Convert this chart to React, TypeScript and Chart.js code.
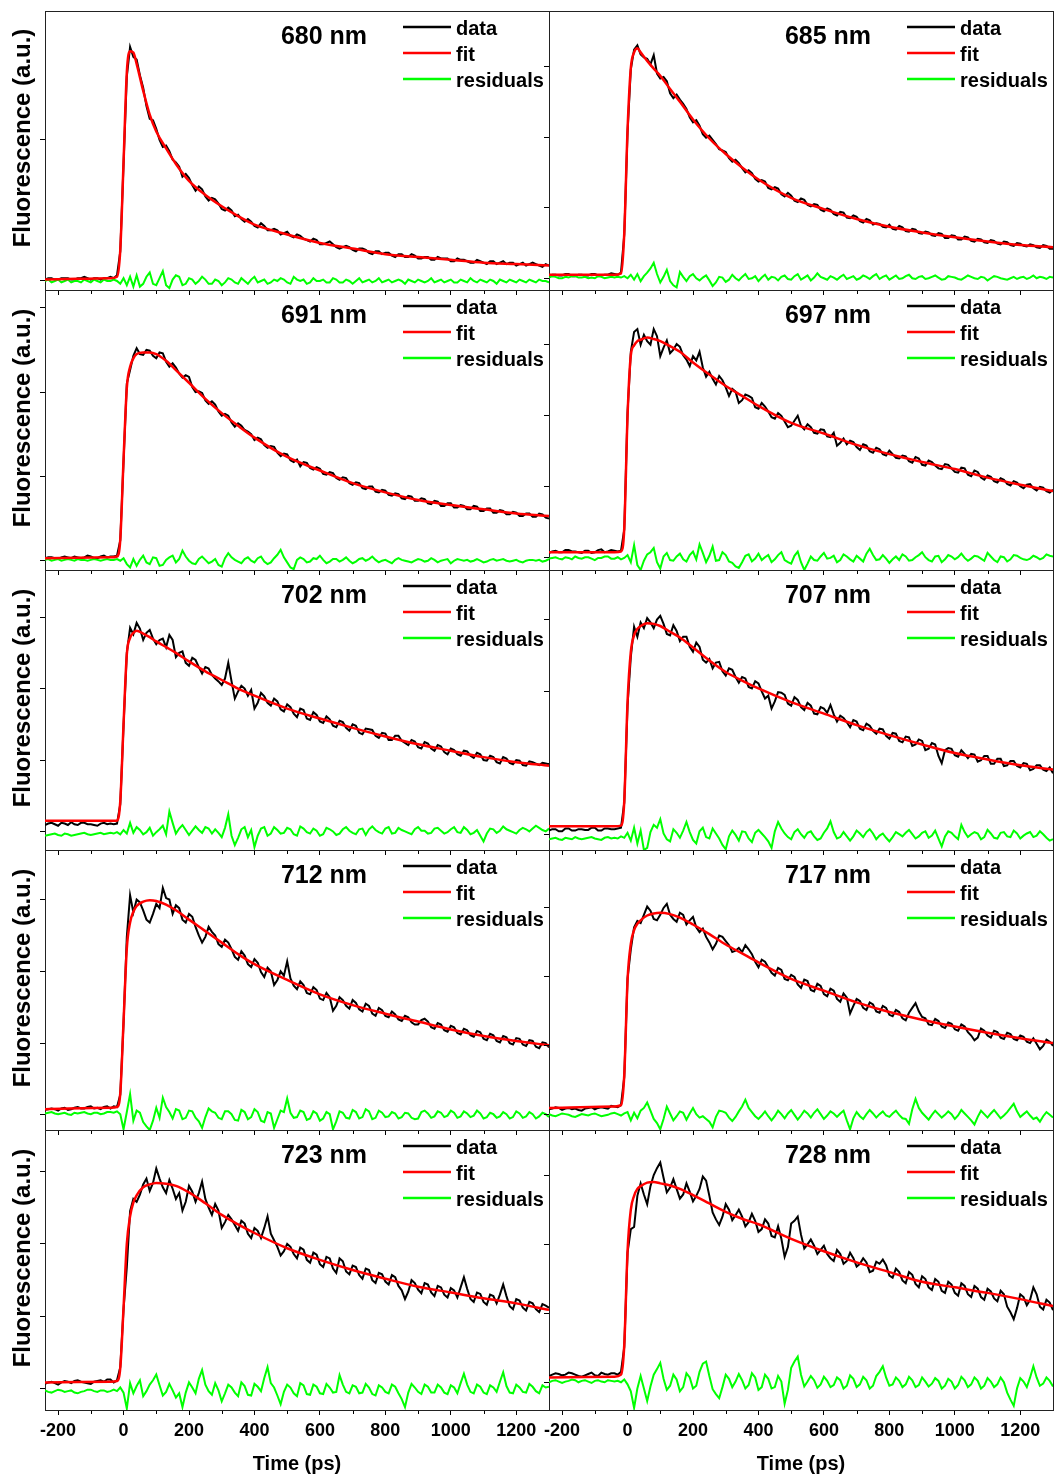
import React, { useEffect, useRef } from 'react';
import { Chart, registerables } from 'chart.js';

Chart.register(...registerables);

const FONT = '"Liberation Sans", Arial, Helvetica, sans-serif';

// ---- time axes (ps) ----
const TIME_DATA = [
  -240, -230, -220, -210, -200, -190, -180, -170, -160, -150,
  -140, -130, -120, -110, -100, -90, -80, -70, -60, -50,
  -40, -30, -20, -10, 0, 10, 20, 30, 40,
  50, 60, 70, 80, 90, 100, 110, 120, 130, 140,
  150, 160, 170, 180, 190, 200, 210, 220, 230, 240,
  250, 260, 270, 280, 290, 300, 310, 320, 330, 340,
  350, 360, 370, 380, 390, 400, 410, 420, 430, 440,
  450, 460, 470, 480, 490, 500, 510, 520, 530, 540,
  550, 560, 570, 580, 590, 600, 610, 620, 630, 640,
  650, 660, 670, 680, 690, 700, 710, 720, 730, 740,
  750, 760, 770, 780, 790, 800, 810, 820, 830, 840,
  850, 860, 870, 880, 890, 900, 910, 920, 930, 940,
  950, 960, 970, 980, 990, 1000, 1010, 1020, 1030, 1040,
  1050, 1060, 1070, 1080, 1090, 1100, 1110, 1120, 1130, 1140,
  1150, 1160, 1170, 1180, 1190, 1200, 1210, 1220, 1230, 1240,
  1250, 1260, 1270, 1280, 1290, 1300,
];
const TIME_FIT = [-240, -40, -20, -10, 0, 10, 20, 30, 40, 60, 80, 100, 130, 160, 200, 250, 300, 350, 400, 500, 600, 700, 800, 900, 1000, 1100, 1200, 1300];

const X_MIN = -240;
const X_MAX = 1300;
const X_MAJOR = [-200, 0, 200, 400, 600, 800, 1000, 1200];
const X_MINOR = [-100, 100, 300, 500, 700, 900, 1100];

const WAVELENGTHS = ['680 nm', '685 nm', '691 nm', '697 nm', '702 nm', '707 nm', '712 nm', '717 nm', '723 nm', '728 nm'];
const Y_MIN = [-6.4, -16.6, -11, -17, -26, -21, -21, -22, -29, -39];
const Y_MAX = [191.5, 378.6, 321, 377, 366, 369, 369, 384, 357, 365];
const Y_TICKS_FIRST = [0, 100];
const Y_TICKS_REST = [0, 100, 200, 300];
const LEGEND_LABELS = ['data', 'fit', 'residuals'];

// ---- 680 nm ----
const DATA_680 = [
  1, 2, 2, 1, 1, 2, 2, 2, 1, 1,
  2, 2, 3, 2, 1, 2, 2, 1, 2, 2,
  3, 2, 4, 21, 83, 145, 166, 159, 157,
  146, 137, 124, 115, 114, 108, 100, 95, 96, 92,
  86, 84, 81, 74, 76, 73, 68, 64, 67, 65,
  60, 57, 59, 58, 55, 51, 50, 52, 50, 46,
  47, 44, 42, 44, 42, 39, 38, 41, 39, 36,
  36, 37, 36, 33, 34, 35, 32, 31, 33, 32,
  30, 29, 28, 30, 29, 26, 26, 27, 28, 26,
  24, 23, 24, 25, 24, 22, 21, 23, 23, 22,
  20, 19, 21, 21, 19, 20, 20, 18, 17, 19,
  19, 17, 17, 19, 18, 16, 16, 17, 17, 15,
  15, 17, 16, 16, 16, 14, 14, 16, 15, 15,
  14, 13, 13, 15, 14, 13, 12, 14, 14, 12,
  13, 14, 12, 13, 13, 11, 12, 13, 11, 12,
  13, 12, 11, 10, 12, 11,
];
const RES_680 = [
  0, 1, -1, 0, 1, -1, 0, 1, -1, 0,
  0, -1, 1, 0, -1, 1, 0, -1, 1, 0,
  0, 1, 0, -2, 2, -3, 3, -4, 4,
  -4, -2, 3, 6, -2, -3, 2, 7, -3, -5,
  1, 4, 3, -3, -2, 2, 1, -2, 0, 3,
  1, -2, -2, 1, 0, -3, -1, 2, 1, -1,
  -2, 2, 0, -2, 1, 3, -1, 0, 1, -2,
  -1, 1, 0, 2, 1, -1, -2, 3, 1, 0,
  1, -2, -1, 2, 0, 0, 1, -1, -1, 2,
  1, -1, -1, 1, 0, -2, 0, 2, -1, 0,
  1, -1, 0, 2, -1, 0, 1, -1, 0, 1,
  0, -2, 1, 0, -1, 1, 0, -1, 0, 2,
  -1, 0, 1, -1, 0, 1, -1, -1, 1, 0,
  -1, 2, 0, -1, 1, 0, -1, 1, 0, -2,
  1, 0, -1, 1, 0, -1, 1, 0, -1, 1,
  0, -1, 1, 0, 0, -1,
];
const FIT_680 = [1, 2, 3, 22, 84, 148, 163, 162, 154, 135, 118, 106, 94, 83, 71, 61, 53, 46, 40, 33, 27, 23, 19, 17, 15, 13, 12, 11];

// ---- 685 nm ----
const DATA_685 = [
  3, 5, 5, 4, 4, 6, 6, 3, 3, 5,
  5, 4, 4, 6, 6, 4, 4, 5, 5, 7,
  6, 5, 8, 62, 207, 296, 324, 330, 317,
  313, 311, 303, 316, 290, 283, 285, 279, 262, 255,
  260, 253, 247, 240, 228, 221, 224, 216, 204, 199,
  202, 196, 190, 183, 181, 179, 170, 165, 168, 163,
  156, 150, 153, 149, 141, 137, 139, 137, 128, 126,
  129, 127, 119, 116, 121, 117, 110, 108, 113, 111,
  104, 102, 105, 104, 97, 95, 99, 97, 91, 89,
  94, 93, 86, 85, 89, 87, 81, 79, 84, 82,
  76, 78, 77, 73, 72, 76, 70, 69, 74, 72,
  67, 66, 70, 69, 64, 63, 66, 65, 61, 60,
  64, 63, 57, 57, 61, 60, 55, 55, 59, 58,
  53, 52, 56, 55, 51, 50, 54, 53, 49, 48,
  52, 51, 47, 46, 50, 49, 46, 45, 48, 47,
  44, 43, 47, 46, 42, 42,
];
const RES_685 = [
  1, 3, 2, 0, 0, 2, 1, 3, 3, 1,
  1, 2, 0, 1, 0, 3, 2, 0, 1, 2,
  1, 2, 1, 3, 0, 5, -2, 6, -4,
  3, 8, 14, 22, 6, -6, 2, 12, -4, -10,
  -13, 9, 2, -4, 3, 6, 0, -3, 1, 4,
  -3, -11, -6, 2, 1, -5, -2, 5, 0, -3,
  2, 6, -1, 0, 3, -4, 1, 5, -2, 2,
  1, -3, 2, 4, -1, -2, 3, 6, -2, 1,
  4, -3, 1, 7, 2, 0, -2, 3, 1, -2,
  2, 5, -1, 1, 3, -2, 0, 4, 2, -1,
  3, 6, -1, 2, 4, -2, 1, 4, -1, 0,
  3, 5, 0, -1, 2, 3, -1, 0, 2, 4,
  1, -2, -1, 3, 2, 1, -1, -2, 1, 4,
  2, 0, -1, 2, 1, -3, 0, 3, 2, 0,
  -1, -2, 0, 2, -1, 1, 2, -1, 1, 4,
  0, 2, 1, -1, 2, 1,
];
const FIT_685 = [5, 5, 7, 64, 210, 298, 320, 326, 320, 308, 297, 287, 268, 250, 225, 198, 176, 157, 140, 114, 98, 84, 73, 65, 58, 52, 47, 44];

// ---- 691 nm ----
const DATA_691 = [
  3, 4, 4, 3, 2, 4, 5, 4, 3, 5,
  4, 3, 4, 6, 5, 3, 3, 5, 6, 4,
  5, 5, 6, 24, 118, 210, 226, 243, 252,
  245, 244, 250, 249, 243, 240, 247, 246, 236, 230,
  234, 229, 222, 217, 220, 218, 206, 200, 201, 199,
  190, 186, 189, 185, 177, 172, 174, 172, 164, 159,
  163, 160, 155, 153, 150, 143, 146, 144, 137, 134,
  136, 135, 128, 124, 127, 126, 119, 117, 120, 112,
  117, 116, 110, 108, 111, 109, 103, 102, 105, 104,
  98, 96, 99, 98, 92, 90, 93, 92, 86, 85,
  88, 88, 82, 81, 84, 83, 78, 77, 80, 79,
  74, 73, 77, 76, 71, 71, 74, 73, 68, 67,
  71, 70, 65, 65, 68, 68, 63, 63, 66, 65,
  61, 61, 65, 64, 59, 59, 62, 62, 57, 57,
  60, 59, 55, 55, 58, 57, 53, 53, 56, 56,
  52, 52, 56, 55, 51, 50,
];
const RES_691 = [
  1, 2, 0, 1, 2, 0, 1, 2, 1, 0,
  2, 1, 1, 0, 1, 2, 1, 0, 1, 2,
  1, 1, 2, 0, 3, -4, -8, 2, -6,
  1, 6, -2, -4, 4, 3, -6, -5, 1, 4,
  6, -2, 2, 12, 5, 0, -3, -4, 2, 5,
  1, -3, -1, 2, -5, -7, 3, 9, 4, 1,
  -1, -3, 2, 4, 0, -2, 3, 5, -1, -4,
  -2, 3, 7, 13, 4, -2, -8, -10, 1, 4,
  2, -2, -1, 3, 2, 6, 1, -3, -1, 2,
  2, -1, 1, 4, 0, -3, -1, 2, 3, 0,
  2, 5, 1, -2, 0, 1, -1, -3, 1, 3,
  1, 0, -1, -2, 0, 2, 1, -1, 0, 3,
  1, -2, 0, 1, 2, -3, 0, 2, 1, 0,
  1, -1, 0, 2, 0, -2, -1, 1, 2, 0,
  1, 2, 0, -1, 0, 1, -1, -2, 0, 1,
  1, 0, 1, -1, 0, 2,
];
const FIT_691 = [3, 4, 5, 25, 120, 205, 230, 240, 245, 247, 247, 245, 237, 226, 211, 192, 175, 160, 146, 123, 107, 92, 81, 72, 66, 61, 56, 53];

// ---- 697 nm ----
const DATA_697 = [
  7, 9, 10, 8, 8, 11, 11, 9, 9, 8,
  7, 10, 10, 7, 8, 11, 12, 8, 9, 11,
  10, 9, 10, 40, 205, 290, 318, 322, 300,
  314, 305, 300, 322, 312, 284, 296, 306, 288, 293,
  301, 297, 285, 279, 270, 284, 278, 290, 268, 255,
  262, 252, 244, 256, 250, 240, 228, 238, 234, 218,
  222, 230, 228, 225, 212, 210, 218, 213, 206, 198,
  196, 204, 200, 192, 184, 186, 193, 200, 186, 181,
  188, 184, 176, 175, 181, 180, 171, 170, 176, 158,
  162, 168, 160, 165, 163, 156, 152, 160, 158, 150,
  148, 155, 153, 146, 144, 151, 146, 141, 140, 144,
  143, 136, 134, 142, 140, 131, 130, 137, 135, 130,
  126, 125, 132, 131, 126, 121, 120, 127, 126, 117,
  115, 123, 121, 113, 110, 116, 114, 108, 106, 112,
  110, 104, 102, 108, 106, 101, 98, 103, 104, 98,
  95, 100, 99, 94, 92, 96,
];
const RES_697 = [
  -1, 0, 1, -1, -2, 1, 0, -2, 2, 0,
  -1, 1, 1, -1, -3, 0, 0, 2, 2, -1,
  -1, 1, -2, 0, 4, -6, 18, -10, -17,
  -4, 5, 8, 14, -6, -15, 2, 7, -3, -4,
  2, 6, -2, -5, 4, 9, -2, 19, 7, -6,
  3, 16, -4, -3, 8, 4, -5, -7, -12, -14,
  -6, 3, 5, -5, -1, 6, -3, 1, 4, -6,
  -2, 4, 8, -3, -6, -8, 3, 9, -6, -17,
  -8, 2, -3, -4, 2, 7, -1, 0, 3, -6,
  -3, 5, 2, -2, -5, 3, -1, -5, 6, 13,
  4, -3, -2, 4, -1, -7, -2, 2, -3, 5,
  2, -4, -3, 1, 4, 8, 1, -3, -5, 2,
  3, -6, -2, 4, 2, -2, 1, 6, 0, -4,
  -1, 3, 2, -1, -4, 7, 2, -3, -6, 2,
  1, -5, -2, 4, 3, 0, -2, -3, -1, 3,
  1, -2, 0, 5, 3, 2,
];
const FIT_697 = [8, 8, 9, 42, 200, 285, 299, 305, 307, 310, 308, 305, 298, 290, 275, 258, 242, 228, 214, 190, 175, 159, 146, 135, 125, 113, 103, 94];

// ---- 702 nm ----
const DATA_702 = [
  9, 11, 12, 10, 8, 12, 11, 9, 13, 10,
  9, 12, 12, 10, 10, 9, 8, 11, 12, 10,
  11, 10, 11, 38, 148, 250, 285, 276, 292,
  284, 268, 278, 282, 270, 262, 268, 270, 258, 275,
  268, 244, 250, 252, 236, 232, 243, 240, 230, 221,
  230, 228, 219, 214, 210, 205, 214, 236, 210, 186,
  196, 204, 200, 190, 198, 172, 180, 194, 189, 180,
  176, 186, 182, 171, 168, 178, 174, 165, 160, 172,
  170, 158, 156, 167, 163, 154, 152, 161, 157, 148,
  146, 155, 153, 145, 141, 150, 148, 138, 136, 144,
  143, 142, 134, 131, 138, 137, 128, 128, 134, 134,
  127, 124, 121, 128, 126, 118, 116, 125, 123, 116,
  113, 121, 119, 111, 108, 116, 114, 108, 106, 113,
  112, 106, 103, 110, 108, 100, 99, 106, 104, 97,
  95, 104, 102, 96, 94, 100, 99, 93, 92, 98,
  97, 95, 93, 96, 95, 94,
];
const RES_702 = [
  -6, -5, -4, -3, -5, -6, -3, -4, -6, -5,
  -4, -3, -2, -4, -5, -4, -3, -2, -4, -3,
  -2, -3, -1, -4, 2, -3, 12, -2, 6,
  2, -4, -1, 5, -6, -1, 3, 8, -4, 28,
  12, -3, 4, 9, 2, -5, 1, 7, 2, -2,
  6, 4, -3, 3, -2, -8, 5, 24, -6, -19,
  -9, 3, 6, -8, 2, -22, -6, 4, 6, -6,
  -3, 6, 2, -3, -2, 5, 3, -4, -6, 7,
  4, -1, -3, 4, 1, -6, -4, 5, 3, 0,
  -5, -3, 3, 6, 1, -2, -4, 3, 4, -5,
  3, 7, 2, -1, -3, 4, 6, -3, -2, 5,
  2, 0, -2, -4, 3, 6, 1, 1, -3, -2,
  4, 5, 1, -3, -1, 3, 6, -1, -2, 6,
  2, -4, -2, 2, -6, -14, -3, 4, 3, -2,
  1, 7, 3, 1, -1, -3, 2, 5, 3, 0,
  4, 8, 5, 2, 0, 4,
];
const FIT_702 = [15, 15, 15, 42, 150, 248, 271, 278, 281, 277, 272, 266, 258, 250, 238, 224, 212, 200, 190, 172, 158, 145, 133, 122, 113, 104, 97, 92];

// ---- 707 nm ----
const DATA_707 = [
  6, 8, 8, 5, 5, 9, 9, 6, 6, 8,
  8, 7, 7, 10, 10, 6, 6, 9, 9, 8,
  8, 9, 10, 45, 180, 248, 290, 276, 296,
  288, 302, 296, 288, 300, 305, 294, 280, 278, 292,
  284, 270, 276, 276, 262, 255, 268, 262, 244, 240,
  245, 232, 240, 241, 228, 222, 232, 230, 220, 212,
  220, 218, 206, 204, 214, 211, 200, 190, 194, 176,
  186, 199, 198, 195, 183, 180, 192, 188, 178, 174,
  184, 180, 169, 168, 178, 176, 170, 181, 168, 158,
  166, 163, 157, 150, 160, 158, 148, 146, 155, 152,
  145, 141, 148, 147, 138, 134, 142, 141, 131, 129,
  137, 136, 124, 126, 133, 131, 118, 120, 128, 126,
  110, 100, 118, 121, 120, 111, 109, 118, 113, 107,
  113, 112, 102, 104, 110, 110, 99, 99, 106, 106,
  96, 97, 103, 103, 96, 94, 100, 99, 90, 92,
  97, 97, 91, 89, 94, 86,
];
const RES_707 = [
  -6, -5, -4, -6, -7, -4, -5, -6, -3, -5,
  -6, -5, -4, -3, -5, -6, -7, -4, -3, -5,
  -4, -5, -2, -4, 3, -8, 10, -12, 6,
  -21, -18, 4, 14, 10, 22, 2, -6, -9, 8,
  3, -4, 6, 18, 4, -7, -12, 5, 10, -3,
  -5, 9, 2, -5, -14, -20, -2, 6, 0, -8,
  5, 4, -5, -10, 3, 7, 2, -3, -9, -18,
  5, 18, 9, 2, -3, -6, 4, 8, 1, -4,
  3, 5, -2, -7, -5, 3, 9, 19, 4, -5,
  -3, 4, -2, -8, -2, 6, 2, -3, 4, 8,
  2, -6, -1, 2, -4, -9, -3, 4, 1, -2,
  3, 7, 1, -5, -2, 3, 5, -4, -1, 6,
  -5, -16, -2, 5, 3, -2, -6, 14, 4, -3,
  1, 4, 2, -6, -3, 7, 2, -4, -5, 3,
  4, -2, -3, 6, 2, -5, -1, 2, 4, -3,
  -1, 5, 1, -4, -8, -6,
];
const FIT_707 = [12, 12, 13, 47, 185, 255, 278, 287, 291, 295, 294, 291, 283, 275, 261, 243, 227, 215, 204, 185, 169, 153, 139, 126, 114, 105, 97, 91];

// ---- 712 nm ----
const DATA_712 = [
  7, 8, 9, 8, 6, 9, 10, 7, 8, 10,
  11, 9, 9, 11, 12, 9, 10, 8, 11, 12,
  9, 12, 11, 28, 128, 248, 306, 282, 300,
  296, 285, 272, 268, 280, 294, 288, 316, 302, 300,
  280, 292, 288, 272, 268, 280, 276, 262, 250, 240,
  248, 262, 255, 250, 238, 234, 244, 240, 231, 220,
  216, 228, 222, 210, 206, 217, 212, 199, 192, 205,
  200, 181, 188, 200, 194, 214, 190, 180, 175, 186,
  181, 170, 168, 178, 174, 162, 160, 170, 164, 145,
  152, 164, 160, 152, 148, 160, 156, 147, 144, 155,
  152, 141, 138, 149, 146, 138, 136, 144, 140, 133,
  131, 138, 136, 129, 126, 126, 132, 134, 130, 122,
  120, 128, 126, 118, 116, 124, 122, 114, 112, 120,
  118, 111, 109, 117, 115, 106, 104, 113, 111, 103,
  101, 110, 108, 100, 98, 107, 106, 98, 96, 104,
  103, 95, 93, 101, 100, 94,
];
const RES_712 = [
  2, 3, 4, 2, 1, 2, 3, 1, 0, 3,
  2, 3, 4, 2, 1, 3, 3, 1, 2, 4,
  4, 3, 5, 1, -20, 4, 29, -8, 6,
  3, -10, -16, -21, -8, 10, -4, 24, 11, 4,
  -5, 8, 6, -6, -4, 6, 5, -4, -9, -18,
  -3, 9, 5, 3, -4, -6, 5, 5, 1, -7,
  -8, 7, 4, -6, -3, 8, 4, -8, -10, 4,
  2, -18, -6, 6, 4, 23, 3, -4, -3, 6,
  4, -7, -5, 5, 2, -8, -5, 4, 1, -20,
  -9, 5, 3, -4, -5, 7, 4, -5, -3, 8,
  5, -6, -4, 6, 3, -3, -2, 4, 2, -5,
  -3, 3, 2, -4, -6, -5, 4, 6, 2, -4,
  -2, 5, 3, -3, -1, 6, 3, -4, -2, 5,
  2, -3, -1, 6, 2, -5, -3, 3, 1, -4,
  -2, 4, 1, -5, -3, 5, 2, -4, -2, 4,
  1, -5, -2, 3, 1, -3,
];
const FIT_712 = [8, 10, 11, 30, 130, 232, 268, 283, 291, 297, 299, 298, 293, 285, 272, 256, 240, 224, 210, 188, 168, 153, 141, 130, 119, 110, 103, 97];

// ---- 717 nm ----
const DATA_717 = [
  8, 9, 11, 10, 7, 9, 10, 8, 9, 7,
  6, 9, 10, 11, 8, 10, 11, 10, 9, 13,
  12, 11, 14, 55, 198, 240, 272, 281, 278,
  290, 302, 296, 284, 282, 290, 300, 306, 290, 284,
  280, 293, 290, 276, 282, 287, 272, 265, 270, 258,
  250, 240, 248, 260, 258, 252, 246, 236, 238, 242,
  236, 246, 240, 233, 222, 214, 225, 222, 214, 206,
  202, 213, 210, 197, 195, 203, 200, 189, 184, 196,
  194, 181, 179, 190, 187, 175, 172, 183, 180, 168,
  164, 176, 170, 147, 158, 168, 165, 155, 152, 163,
  160, 150, 148, 158, 155, 145, 143, 152, 149, 140,
  137, 148, 155, 162, 150, 142, 140, 131, 130, 139,
  136, 128, 126, 134, 132, 124, 122, 131, 128, 120,
  115, 108, 112, 125, 122, 115, 112, 122, 120, 112,
  110, 119, 117, 110, 108, 115, 113, 106, 104, 111,
  103, 95, 100, 109, 106, 100,
];
const RES_717 = [
  1, -1, -2, 0, 2, 1, 0, -2, -3, -1,
  1, 0, -1, 1, 2, 0, -2, -1, 0, 2,
  3, 1, -1, 2, 4, -8, 3, -5, 6,
  10, 18, 6, -6, -12, -21, -6, 12, 2, -8,
  -2, 5, 3, -7, 2, 10, 1, -4, -2, -6,
  -10, -18, -3, 6, 5, 3, -4, -9, -3, 5,
  12, 22, 10, 4, -2, -6, -1, 5, -2, -8,
  -2, 6, 1, -5, 2, 7, 0, -7, -1, 6,
  2, -4, 3, 8, 1, -6, -1, 5, 2, -3,
  2, 6, -8, -21, -5, 4, -2, -6, 1, 7,
  2, -4, 1, 5, -1, -3, 2, 6, 0, -5,
  -6, -13, 8, 23, 10, 3, -2, -7, 0, 6,
  1, -4, 0, 5, 1, -6, -1, 7, 2, -3,
  -8, -14, -3, 6, 1, -4, 2, 7, 1, -5,
  -1, 4, 10, 16, 5, -3, 1, 5, -1, -6,
  -4, -10, -2, 4, 0, -4,
];
const FIT_717 = [10, 12, 14, 58, 195, 248, 268, 277, 282, 289, 292, 293, 291, 286, 276, 262, 247, 234, 221, 197, 180, 163, 149, 138, 128, 119, 111, 104];

// ---- 723 nm ----
const DATA_723 = [
  7, 9, 10, 8, 6, 9, 11, 10, 8, 11,
  12, 10, 9, 8, 7, 10, 11, 12, 10, 13,
  13, 9, 12, 30, 110, 168, 245, 262, 258,
  268, 282, 290, 273, 284, 304, 290, 278, 270, 288,
  276, 262, 270, 246, 258, 280, 272, 258, 270, 286,
  262, 250, 240, 255, 246, 222, 230, 240, 234, 226,
  218, 232, 228, 214, 208, 222, 218, 208, 222, 238,
  214, 205, 196, 184, 190, 200, 196, 186, 180, 195,
  192, 178, 174, 188, 185, 172, 168, 182, 180, 166,
  160, 180, 176, 162, 158, 170, 168, 157, 152, 166,
  164, 150, 146, 160, 158, 148, 144, 157, 154, 142,
  136, 124, 134, 150, 146, 137, 132, 146, 144, 133,
  128, 142, 140, 130, 126, 139, 136, 126, 140, 154,
  138, 124, 120, 133, 131, 120, 116, 130, 128, 118,
  130, 144, 128, 114, 110, 124, 122, 112, 108, 120,
  118, 110, 106, 117, 115, 112,
];
const RES_723 = [
  -2, -4, -5, -3, -1, -2, -4, -3, -2, -5,
  -6, -4, -3, -1, -1, -3, -4, -2, -2, -4,
  -3, -1, -3, 2, -5, -27, 8, -6, 4,
  12, -10, -3, 6, 12, 20, 5, -9, -4, 7,
  -2, -12, -6, -25, -5, 9, 2, -6, 14, 26,
  6, -3, -8, 8, -2, -17, -6, 6, 2, -5,
  -10, 9, 4, -8, -9, 7, 3, -3, 15, 30,
  8, 2, -9, -21, -4, 6, 2, -6, -10, 8,
  5, -7, -8, 6, 3, -6, -7, 7, 2, -5,
  -4, 19, 6, -4, -6, 5, 3, -6, -5, 7,
  2, -7, -9, 5, 2, -4, -6, 6, 3, -6,
  -14, -25, -5, 7, 2, -4, -7, 6, 3, -5,
  -5, 6, 2, -5, -7, 5, 2, -6, 8, 21,
  6, -4, -6, 6, 3, -5, -7, 5, 2, -4,
  10, 23, 4, -5, -6, 6, 2, -4, -5, 7,
  3, -3, -6, 5, 2, 3,
];
const FIT_723 = [9, 10, 11, 29, 112, 200, 238, 257, 267, 278, 282, 284, 283, 280, 271, 256, 240, 227, 215, 194, 178, 164, 152, 141, 133, 125, 118, 109];

// ---- 728 nm ----
const DATA_728 = [
  10, 12, 14, 13, 11, 12, 15, 14, 12, 10,
  9, 11, 13, 15, 11, 10, 15, 13, 12, 14,
  14, 12, 16, 52, 188, 222, 225, 270, 288,
  272, 258, 284, 300, 310, 318, 296, 275, 282, 294,
  280, 266, 272, 288, 276, 262, 270, 280, 298, 292,
  270, 246, 236, 228, 240, 258, 250, 235, 242, 250,
  240, 226, 232, 244, 234, 218, 222, 236, 230, 212,
  210, 226, 208, 182, 196, 230, 234, 240, 214, 194,
  200, 207, 198, 186, 192, 198, 186, 180, 176, 192,
  186, 172, 176, 188, 180, 168, 172, 180, 174, 160,
  162, 175, 172, 178, 170, 155, 152, 165, 160, 148,
  144, 160, 156, 143, 138, 154, 150, 138, 134, 150,
  146, 133, 130, 146, 142, 130, 126, 144, 140, 128,
  124, 140, 136, 124, 120, 136, 132, 122, 118, 133,
  128, 110, 102, 92, 108, 128, 124, 112, 120, 138,
  128, 110, 106, 120, 116, 105,
];
const RES_728 = [
  1, 3, 4, 2, 0, 2, 3, 5, 4, 1,
  3, 4, 2, 0, 3, 4, 2, 1, 4, 3,
  2, 3, 1, 5, -2, -12, -36, -8, 10,
  -8, -26, -5, 12, 20, 29, 6, -10, -4, 12,
  5, -12, -6, 14, 8, -8, -4, 16, 28, 31,
  10, -9, -16, -22, -6, 12, 6, -6, 2, 13,
  4, -8, -3, 14, 8, -10, -6, 12, 6, -8,
  -6, 10, 2, -30, -10, 22, 31, 38, 12, -5,
  2, 10, 4, -7, -2, 9, 3, -6, -3, 8,
  4, -8, -4, 11, 6, -6, -2, 9, 4, -8,
  -4, 10, 16, 24, 8, -4, -2, 8, 3, -6,
  -2, 9, 4, -6, -3, 8, 2, -5, -1, 7,
  3, -8, -4, 6, 2, -8, -3, 9, 4, -6,
  -2, 8, 3, -8, -4, 7, 2, -6, -2, 8,
  1, -14, -24, -33, -8, 7, 2, -6, 8, 24,
  8, -4, -1, 8, 3, -5,
];
const FIT_728 = [8, 9, 12, 55, 190, 250, 270, 280, 284, 289, 290, 288, 285, 280, 271, 259, 247, 237, 229, 208, 190, 174, 160, 146, 138, 130, 121, 111];

const DATA = [DATA_680, DATA_685, DATA_691, DATA_697, DATA_702, DATA_707, DATA_712, DATA_717, DATA_723, DATA_728];
const RES = [RES_680, RES_685, RES_691, RES_697, RES_702, RES_707, RES_712, RES_717, RES_723, RES_728];
const FIT = [FIT_680, FIT_685, FIT_691, FIT_697, FIT_702, FIT_707, FIT_712, FIT_717, FIT_723, FIT_728];

const COLOR_DATA = '#000000';
const COLOR_FIT = '#ff0000';
const COLOR_RES = '#00ff00';
const FRAME = '#222222';

function makeDecor(idx: number, col: number, canvasLeft: number) {
  return {
    id: 'decor' + idx,
    afterDraw(chart: any) {
      const { ctx, chartArea: a, scales } = chart;
      ctx.save();
      ctx.strokeStyle = FRAME;
      ctx.lineWidth = 1;
      const top = Math.round(a.top) + 0.5;
      const right = Math.round(a.right) + 0.5;
      ctx.beginPath();
      ctx.moveTo(a.left, top);
      ctx.lineTo(right + 0.5, top);
      ctx.moveTo(right, a.top);
      ctx.lineTo(right, a.bottom + 1);
      ctx.stroke();
      ctx.strokeStyle = '#000';
      ctx.beginPath();
      for (const v of X_MINOR) {
        const px = Math.round(scales.x.getPixelForValue(v)) + 0.5;
        ctx.moveTo(px, a.bottom + 1);
        ctx.lineTo(px, a.bottom + 4);
      }
      ctx.stroke();
      ctx.fillStyle = '#000';
      ctx.font = 'bold 25px ' + FONT;
      ctx.textAlign = 'center';
      ctx.textBaseline = 'alphabetic';
      ctx.fillText(WAVELENGTHS[idx], a.left + 279, a.top + 33);
      const colors = [COLOR_DATA, COLOR_FIT, COLOR_RES];
      ctx.font = 'bold 20px ' + FONT;
      ctx.textAlign = 'left';
      LEGEND_LABELS.forEach((lab, k) => {
        const ly = a.top + 16 + k * 26;
        ctx.strokeStyle = colors[k];
        ctx.lineWidth = 2.5;
        ctx.beginPath();
        ctx.moveTo(a.left + 358, ly);
        ctx.lineTo(a.left + 406, ly);
        ctx.stroke();
        ctx.fillStyle = '#000';
        ctx.fillText(lab, a.left + 411, ly + 7.5);
      });
      if (col === 0) {
        ctx.translate(23.5 - canvasLeft, a.bottom - 152);
        ctx.rotate(-Math.PI / 2);
        ctx.font = 'bold 24px ' + FONT;
        ctx.textAlign = 'center';
        ctx.textBaseline = 'middle';
        ctx.fillStyle = '#000';
        ctx.fillText('Fluorescence (a.u.)', 0, 0);
      }
      ctx.restore();
    },
  };
}

function Panel({ idx }: { idx: number }) {
  const ref = useRef<HTMLCanvasElement | null>(null);
  const row = Math.floor(idx / 2);
  const col = idx % 2;
  const frameL = col === 0 ? 45 : 549;
  const frameW = 504;
  const frameT = row === 0 ? 11 : 290 + (row - 1) * 280;
  const frameB = 290 + row * 280;
  const isBottom = row === 4;
  const padL = col === 0 ? 45 : 20;
  const padR = col === 0 ? 6 : 2;
  const padT = row === 0 ? 11 : 4;
  const padB = isBottom ? 67 : 7;
  const xH = isBottom ? 66 : 5;
  const yW = 5;
  const canvasLeft = frameL - padL;
  const canvasTop = frameT - padT;
  const W = padL + frameW + padR;
  const H = padT + (frameB - frameT) + padB;

  useEffect(() => {
    if (!ref.current) return;
    const yTicks = idx === 0 ? Y_TICKS_FIRST : Y_TICKS_REST;
    const chart = new Chart(ref.current, {
      type: 'line',
      data: {
        datasets: [
          {
            label: 'fit',
            data: TIME_FIT.map((t, i) => ({ x: t, y: FIT[idx][i] })),
            borderColor: COLOR_FIT,
            borderWidth: 2.5,
            pointRadius: 0,
            fill: false,
            cubicInterpolationMode: 'monotone',
          },
          {
            label: 'residuals',
            data: TIME_DATA.map((t, i) => ({ x: t, y: RES[idx][i] })),
            borderColor: COLOR_RES,
            borderWidth: 2,
            pointRadius: 0,
            fill: false,
            tension: 0,
          },
          {
            label: 'data',
            data: TIME_DATA.map((t, i) => ({ x: t, y: DATA[idx][i] })),
            borderColor: COLOR_DATA,
            borderWidth: 2,
            pointRadius: 0,
            fill: false,
            tension: 0,
          },
        ],
      },
      options: {
        animation: false,
        responsive: false,
        maintainAspectRatio: false,
        devicePixelRatio: 1,
        events: [],
        layout: { padding: { left: padL - yW, right: padR, top: padT, bottom: padB - xH } },
        plugins: { legend: { display: false }, tooltip: { enabled: false }, title: { display: false } },
        scales: {
          x: {
            type: 'linear',
            min: X_MIN,
            max: X_MAX,
            position: 'bottom',
            afterBuildTicks: (s: any) => { s.ticks = X_MAJOR.map((v) => ({ value: v })); },
            afterFit: (s: any) => { s.height = xH; },
            grid: { display: true, drawOnChartArea: false, drawTicks: true, tickLength: 5, tickColor: '#000', tickWidth: 1 },
            border: { display: true, color: FRAME, width: 1 },
            ticks: {
              display: isBottom,
              autoSkip: false,
              maxRotation: 0,
              padding: 5,
              color: '#000',
              font: { family: FONT, size: 18, weight: 'bold' },
              callback: (v: any) => String(v),
            },
            title: {
              display: isBottom,
              text: 'Time (ps)',
              color: '#000',
              font: { family: FONT, size: 20, weight: 'bold' },
              padding: { top: 0, bottom: 0 },
            },
          },
          y: {
            type: 'linear',
            min: Y_MIN[idx],
            max: Y_MAX[idx],
            position: 'left',
            afterBuildTicks: (s: any) => { s.ticks = yTicks.map((v) => ({ value: v })); },
            afterFit: (s: any) => { s.width = yW; },
            grid: { display: true, drawOnChartArea: false, drawTicks: true, tickLength: 5, tickColor: '#000', tickWidth: 1 },
            border: { display: true, color: FRAME, width: 1 },
            ticks: { display: false },
            title: { display: false },
          },
        },
      } as any,
      plugins: [makeDecor(idx, col, canvasLeft)],
    } as any);
    return () => chart.destroy();
  }, []);

  return (
    <canvas
      ref={ref}
      width={W}
      height={H}
      style={{ position: 'absolute', left: canvasLeft, top: canvasTop, width: W, height: H }}
    />
  );
}

export default function App() {
  return (
    <div style={{ position: 'absolute', left: 0, top: 0, width: 1055, height: 1477, background: '#fff', overflow: 'hidden' }}>
      {WAVELENGTHS.map((_, i) => (
        <Panel key={i} idx={i} />
      ))}
    </div>
  );
}
